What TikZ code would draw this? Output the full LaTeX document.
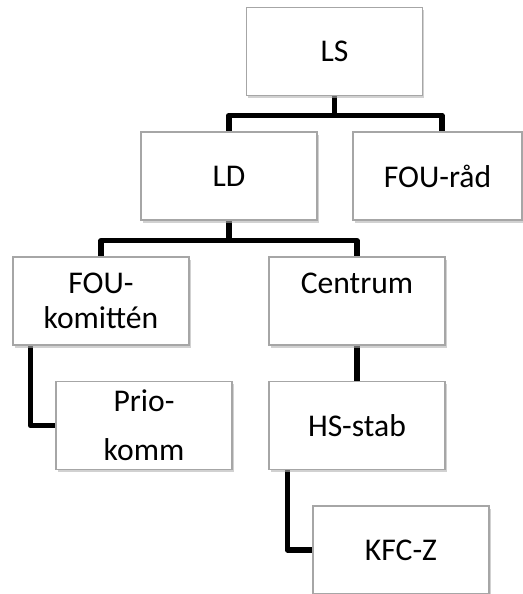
\documentclass[tikz,border=0pt]{standalone}
\usepackage{fontspec}
\setmainfont{Carlito}
\usetikzlibrary{positioning}
\usetikzlibrary{shadows}
\usetikzlibrary{backgrounds}

\tikzset{
    orgbox/.style={draw=gray!70, line width=0.8pt, fill=white, inner sep=0pt,
        minimum width=3.52cm, minimum height=1.76cm, align=center,
        font=\fontsize{18}{19.8}\selectfont,
        drop shadow={shadow xshift=1pt, shadow yshift=-1.5pt, fill=gray!60, opacity=0.6}},
    conn/.style={line width=3pt, line join=round}
}

\begin{document}
\begin{tikzpicture}[x=0.02cm, y=-0.02cm]
        \useasboundingbox (0,0) rectangle (523,594);

        % top levels
        \node[orgbox] (ls) at (334.5,51.5) {LS};
        \node[orgbox] (ld) at (229,176) {LD};
        \node[orgbox, minimum width=3.38cm] (rad) at (437.5,176) {FOU-råd};

        % third level
        \node[orgbox] (fouk) at (101,301) {FOU-\\komittén};
        \node[orgbox] (cen) at (357,301) {Centrum\\\mbox{}};

        % fourth level
        \node[orgbox] (prio) at (144,425.5) {Prio-\\[8pt]komm};
        \node[orgbox] (hs) at (357,425.5) {HS-stab};

        % bottom
        \node[orgbox] (kfc) at (401,550) {KFC-Z};

        \begin{scope}[on background layer]
            \draw[conn] (ls.south) -- ++(0,19) coordinate (bar1);
            \draw[conn] (ld.north) |- (bar1) -| ([xshift=0.09cm]rad.north);

            \draw[conn] (ld.south) -- ++(0,20) coordinate (bar2);
            \draw[conn] (fouk.north) |- (bar2) -| (cen.north);

            \draw[conn] ([xshift=0.36cm]fouk.south west) |- (prio.west);
            \draw[conn] (cen.south) -- (hs.north);
            \draw[conn] ([xshift=0.38cm]hs.south west) |- (kfc.west);
        \end{scope}

    \end{tikzpicture}
\end{document}
